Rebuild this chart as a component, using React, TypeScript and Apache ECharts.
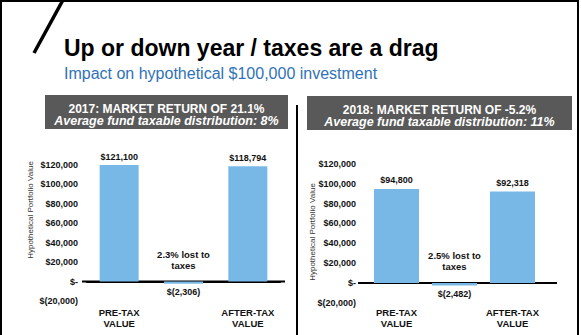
import React, { useEffect, useRef } from 'react';
import * as echarts from 'echarts';

const categories = ['PRE-TAX\nVALUE', '', 'AFTER-TAX\nVALUE'];
const values2017 = [121100, -2306, 118794];
const values2018 = [94800, -2482, 92318];
const header2017 = ['2017: MARKET RETURN OF 21.1%', 'Average fund taxable distribution: 8%'];
const header2018 = ['2018: MARKET RETURN OF -5.2%', 'Average fund taxable distribution: 11%'];
const lost2017 = '2.3% lost to\ntaxes';
const lost2018 = '2.5% lost to\ntaxes';
const yMin = -20000;
const yMax = 120000;
const yInterval = 20000;
const yName = 'Hypothetical Portfolio Value';
const titleText = 'Up or down year / taxes are a drag';
const subtitleText = 'Impact on hypothetical $100,000 investment';

const FONT = 'Liberation Sans, Arial, sans-serif';
const BLUE = '#78b8e6';
const DARK = '#111111';

const money = (v: number) =>
  v === 0 ? '$-' : v < 0 ? `$(${Math.abs(v).toLocaleString('en-US')})` : `$${v.toLocaleString('en-US')}`;

function panel(idx: number, values: number[], lost: string, barWidth: number, labelMargin: number, xMargin: number) {
  return {
    xAxis: {
      type: 'category',
      gridIndex: idx,
      data: categories,
      axisTick: { show: false },
      axisLine: { show: true, onZero: true, lineStyle: { color: '#000', width: 2 } },
      axisLabel: {
        margin: xMargin,
        fontFamily: FONT,
        fontSize: 9.5,
        fontWeight: 'bold',
        color: DARK,
        lineHeight: 11,
        interval: 0,
      },
    },
    yAxis: {
      type: 'value',
      gridIndex: idx,
      min: yMin,
      max: yMax,
      interval: yInterval,
      splitLine: { show: false },
      axisLine: { show: false },
      axisTick: { show: false },
      axisLabel: {
        margin: labelMargin,
        fontFamily: FONT,
        fontSize: 9,
        fontWeight: 'bold',
        color: DARK,
        formatter: (v: number) => money(v),
      },
    },
    series: {
      type: 'bar',
      xAxisIndex: idx,
      yAxisIndex: idx,
      barWidth,
      itemStyle: { color: BLUE },
      data: values.map((v) => ({ value: v, label: { position: v < 0 ? 'bottom' : 'top' } })),
      label: {
        show: true,
        distance: 4,
        fontFamily: FONT,
        fontSize: 9,
        fontWeight: 'bold',
        color: DARK,
        formatter: (p: any) => money(p.value),
      },
      markPoint: {
        symbol: 'circle',
        symbolSize: 1,
        itemStyle: { color: 'rgba(0,0,0,0)' },
        silent: true,
        data: [{ coord: [1, 0], value: 0 }],
        label: {
          show: true,
          position: 'top',
          distance: 10,
          formatter: lost,
          fontFamily: FONT,
          fontSize: 9.5,
          fontWeight: 'bold',
          color: DARK,
          lineHeight: 11,
          align: 'center',
        },
      },
    },
  };
}

function txt(x: number, y: number, text: string, size: number, extra: any = {}, rotation = 0) {
  return {
    type: 'text',
    x,
    y,
    rotation,
    silent: true,
    style: {
      text,
      fill: extra.fill || DARK,
      fontFamily: FONT,
      fontSize: size,
      fontWeight: extra.fontWeight || 'normal',
      fontStyle: extra.fontStyle || 'normal',
      align: extra.align || 'center',
      verticalAlign: 'middle',
    },
  };
}

function headerGraphic(x: number, y: number, w: number, h: number, lines: string[]) {
  const cx = x + w / 2;
  return [
    { type: 'rect', shape: { x, y, width: w, height: h }, style: { fill: '#595959' }, silent: true },
    txt(cx, y + 13.5, lines[0], 12, { fill: '#fff', fontWeight: 'bold' }),
    txt(cx, y + 26, lines[1], 12.5, { fill: '#fff', fontWeight: 'bold', fontStyle: 'italic' }),
  ];
}

export default function App() {
  const ref = useRef<HTMLDivElement>(null);
  useEffect(() => {
    if (!ref.current) return;
    const chart = echarts.init(ref.current, null, { renderer: 'svg' });
    const p1 = panel(0, values2017, lost2017, 39, 9, 5.5);
    const p2 = panel(1, values2018, lost2018, 45, 11.5, 4.5);
    chart.setOption({
      animation: false,
      backgroundColor: '#fff',
      grid: [
        { left: 87, right: 301, top: 165, bottom: 34, containLabel: false, outerBoundsMode: 'none' },
        { left: 367.5, right: 39.5, top: 164, bottom: 32.2, containLabel: false, outerBoundsMode: 'none' },
      ],
      xAxis: [p1.xAxis, p2.xAxis],
      yAxis: [p1.yAxis, p2.yAxis],
      series: [p1.series, p2.series],
    });
    const z0 = chart.convertToPixel({ yAxisIndex: 0 } as any, 0) as number;
    const z1 = chart.convertToPixel({ yAxisIndex: 1 } as any, 0) as number;
    chart.setOption({
      graphic: [
        { type: 'line', shape: { x1: 1, y1: 0, x2: 1, y2: 335 }, style: { stroke: '#000', lineWidth: 2 } },
        { type: 'line', shape: { x1: 0, y1: 1, x2: 579, y2: 1 }, style: { stroke: '#000', lineWidth: 2 } },
        { type: 'line', shape: { x1: 578, y1: 0, x2: 578, y2: 335 }, style: { stroke: '#000', lineWidth: 2 } },
        { type: 'line', shape: { x1: 63, y1: 0, x2: 34, y2: 53 }, style: { stroke: '#000', lineWidth: 3.5 } },
        { type: 'line', shape: { x1: 297, y1: 105, x2: 297, y2: 335 }, style: { stroke: '#000', lineWidth: 2 } },
        txt(64, 48, titleText, 23, { fill: '#000', fontWeight: 'bold', align: 'left' }),
        txt(64, 73, subtitleText, 16, { fill: '#2f72b8', align: 'left' }),
        ...headerGraphic(45, 95, 243, 34, header2017),
        ...headerGraphic(307, 96, 265, 34, header2018),
        txt(30, 210, yName, 8, { fill: '#333' }, Math.PI / 2),
        txt(312, 232, yName, 8, { fill: '#333' }, Math.PI / 2),
        { type: 'line', shape: { x1: 82, y1: z0, x2: 285, y2: z0 }, style: { stroke: '#000', lineWidth: 2 } },
        { type: 'line', shape: { x1: 358, y1: z1, x2: 557, y2: z1 }, style: { stroke: '#000', lineWidth: 2 } },
      ],
    });
    return () => chart.dispose();
  }, []);
  return <div ref={ref} style={{ position: 'absolute', left: 0, top: 0, width: 581, height: 335 }} />;
}
